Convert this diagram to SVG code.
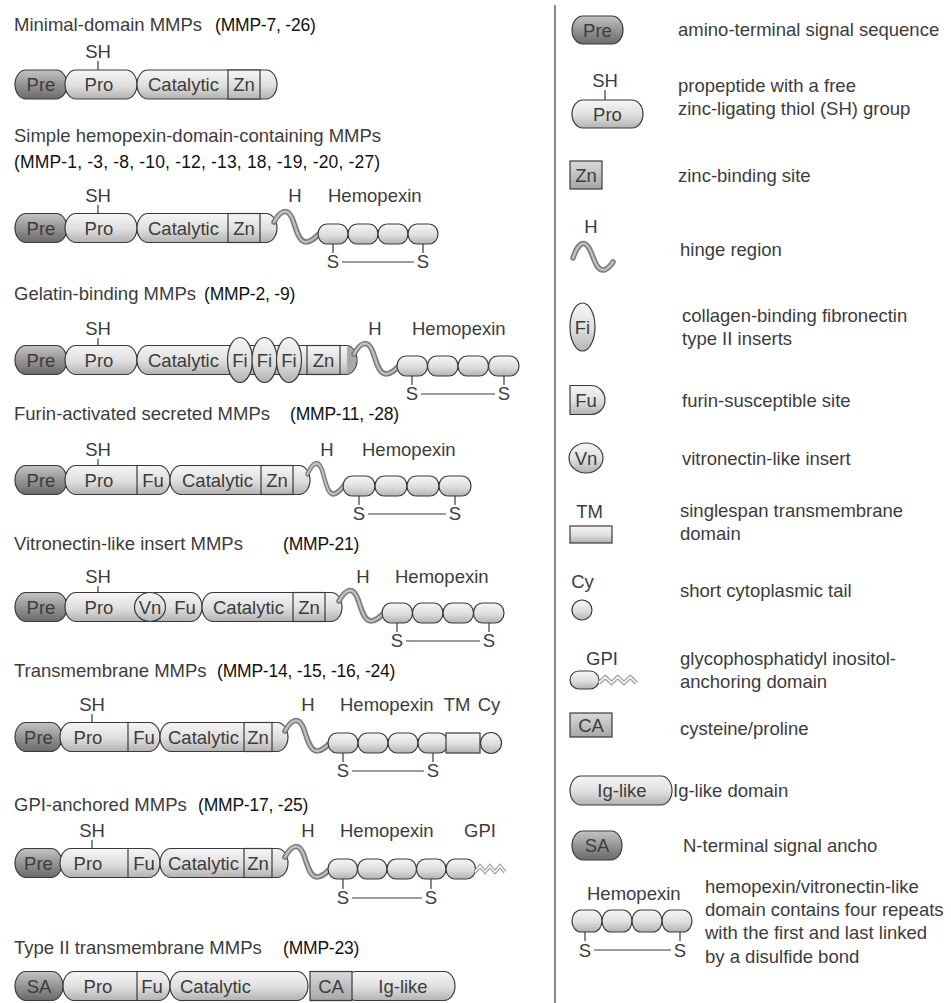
<svg xmlns="http://www.w3.org/2000/svg" width="951" height="1003" viewBox="0 0 951 1003">
<defs>
<linearGradient id="gL" x1="0" y1="0" x2="0" y2="1"><stop offset="0" stop-color="#f6f6f6"/><stop offset="0.55" stop-color="#dedede"/><stop offset="1" stop-color="#b2b2b2"/></linearGradient>
<linearGradient id="gD" x1="0" y1="0" x2="0" y2="1"><stop offset="0" stop-color="#c4c4c4"/><stop offset="0.5" stop-color="#959595"/><stop offset="1" stop-color="#6a6a6a"/></linearGradient>
<linearGradient id="gZ" x1="0" y1="0" x2="0" y2="1"><stop offset="0" stop-color="#dadada"/><stop offset="1" stop-color="#a6a6a6"/></linearGradient>
<g id="hinge">
<path d="M -3,-6 C 3,-17 10,-21 15,-10 C 19,-1 21,14 29,14 C 34,14 38,10 42,6" fill="none" stroke="#7a7a7a" stroke-width="5.5" stroke-linecap="round"/>
<path d="M -3,-6 C 3,-17 10,-21 15,-10 C 19,-1 21,14 29,14 C 34,14 38,10 42,6" fill="none" stroke="#c0c0c0" stroke-width="2.4" stroke-linecap="round"/>
</g>
<g id="zig">
<polyline points="0,3 5,-3 10,3 15,-3 20,3 25,-3 30,3" fill="none" stroke="#9a9a9a" stroke-width="3.6" stroke-linejoin="miter"/>
<polyline points="0,3 5,-3 10,3 15,-3 20,3 25,-3 30,3" fill="none" stroke="#f2f2f2" stroke-width="1.6" stroke-linejoin="miter"/>
</g>
</defs>
<style>
.lt{fill:url(#gL);stroke:#3a3a3a;stroke-width:1.2}
.dk{fill:url(#gD);stroke:#3a3a3a;stroke-width:1.2}
.zn{fill:url(#gZ);stroke:#3a3a3a;stroke-width:1.2}
.ln{fill:none;stroke:#3a3a3a;stroke-width:1.2}
.t{font-family:"Liberation Sans",Arial,Helvetica,sans-serif;font-size:18.5px;fill:#3c3c3c}
.p{font-size:17.5px;fill:#111;letter-spacing:-0.2px}
.c{text-anchor:middle}
</style>
<rect x="0" y="0" width="951" height="1003" fill="#ffffff"/>

<g id="connectors">
<line class="ln" x1="555" y1="5" x2="555" y2="1003" stroke-width="1.5"/>
</g>

<!-- Row 1 -->
<g id="mmp-minimal">
<text class="t" x="14" y="31">Minimal-domain MMPs</text><text class="t p" x="215" y="31">(MMP-7, -26)</text>
<text class="t c" x="98" y="58">SH</text><line class="ln" x1="98" y1="61" x2="98" y2="70"/>
<rect class="dk" x="15" y="70" width="52" height="29" rx="11" ry="14.5"/>
<rect class="lt" x="65" y="70" width="72" height="29" rx="11" ry="14.5"/>
<rect class="lt" x="137" y="70" width="140" height="29" rx="11" ry="14.5"/>
<rect class="lt" x="228" y="70" width="32" height="29"/>
<text class="t c" x="41" y="91">Pre</text><text class="t c" x="99" y="91">Pro</text><text class="t" x="148" y="91">Catalytic</text><text class="t c" x="244" y="91">Zn</text>
</g>

<!-- Row 2 -->
<g id="mmp-simple-hemopexin">
<text class="t" x="14" y="142">Simple hemopexin-domain-containing MMPs</text>
<text class="t p" x="14" y="168" textLength="366" lengthAdjust="spacing">(MMP-1, -3, -8, -10, -12, -13, 18, -19, -20, -27)</text>
<text class="t c" x="98" y="202">SH</text><line class="ln" x1="98" y1="205" x2="98" y2="213.5"/>
<rect class="dk" x="15" y="213.5" width="52" height="29" rx="11" ry="14.5"/>
<rect class="lt" x="65" y="213.5" width="72" height="29" rx="11" ry="14.5"/>
<rect class="lt" x="137" y="213.5" width="140" height="29" rx="11" ry="14.5"/>
<rect class="lt" x="228" y="213.5" width="32" height="29"/>
<text class="t c" x="41" y="234.5">Pre</text><text class="t c" x="99" y="234.5">Pro</text><text class="t" x="148" y="234.5">Catalytic</text><text class="t c" x="244" y="234.5">Zn</text>
<use href="#hinge" transform="translate(277,228)"/>
<rect class="lt" x="318" y="224" width="30" height="20" rx="9" ry="10"/>
<rect class="lt" x="348" y="224" width="30" height="20" rx="9" ry="10"/>
<rect class="lt" x="378" y="224" width="30" height="20" rx="9" ry="10"/>
<rect class="lt" x="408" y="224" width="30" height="20" rx="9" ry="10"/>
<line class="ln" x1="333" y1="244" x2="333" y2="253"/><line class="ln" x1="423" y1="244" x2="423" y2="253"/>
<line class="ln" x1="342" y1="262" x2="414" y2="262"/>
<text class="t c" x="333" y="268">S</text><text class="t c" x="423" y="268">S</text>
<text class="t c" x="295" y="202">H</text><text class="t" x="328" y="202">Hemopexin</text>
</g>

<!-- Row 3 -->
<g id="mmp-gelatin">
<text class="t" x="14" y="300">Gelatin-binding MMPs</text><text class="t p" x="204" y="300">(MMP-2, -9)</text>
<text class="t c" x="98" y="335">SH</text><line class="ln" x1="98" y1="338" x2="98" y2="345.5"/>
<rect class="dk" x="15" y="345.5" width="52" height="29" rx="11" ry="14.5"/>
<rect class="lt" x="65" y="345.5" width="72" height="29" rx="11" ry="14.5"/>
<rect class="lt" x="137" y="345.5" width="220" height="29" rx="11" ry="14.5"/>
<path d="M 347,346.5 A 9.5,13.5 0 0 1 347,373.5 Z" fill="#a9a9a9"/>
<rect class="lt" x="307" y="345.5" width="33" height="29"/>
<ellipse class="lt" cx="240" cy="360" rx="12.5" ry="22.5"/>
<ellipse class="lt" cx="264.5" cy="360" rx="12.5" ry="22.5"/>
<ellipse class="lt" cx="289" cy="360" rx="12.5" ry="22.5"/>
<text class="t c" x="41" y="366.5">Pre</text><text class="t c" x="99" y="366.5">Pro</text><text class="t" x="148" y="366.5">Catalytic</text>
<text class="t c" x="240" y="366.5">Fi</text><text class="t c" x="264.5" y="366.5">Fi</text><text class="t c" x="289" y="366.5">Fi</text><text class="t c" x="323.5" y="366.5">Zn</text>
<use href="#hinge" transform="translate(357,360)"/>
<rect class="lt" x="397" y="356" width="30.5" height="20" rx="9" ry="10"/>
<rect class="lt" x="427.5" y="356" width="30.5" height="20" rx="9" ry="10"/>
<rect class="lt" x="458" y="356" width="30.5" height="20" rx="9" ry="10"/>
<rect class="lt" x="488.5" y="356" width="30.5" height="20" rx="9" ry="10"/>
<line class="ln" x1="412" y1="376" x2="412" y2="385"/><line class="ln" x1="504" y1="376" x2="504" y2="385"/>
<line class="ln" x1="421" y1="394" x2="495" y2="394"/>
<text class="t c" x="412" y="400">S</text><text class="t c" x="504" y="400">S</text>
<text class="t c" x="375" y="335">H</text><text class="t" x="412" y="335">Hemopexin</text>
</g>

<!-- Row 4 -->
<g id="mmp-furin">
<text class="t" x="14" y="420">Furin-activated secreted MMPs</text><text class="t p" x="290" y="420">(MMP-11, -28)</text>
<text class="t c" x="98" y="456">SH</text><line class="ln" x1="98" y1="459" x2="98" y2="465.5"/>
<rect class="dk" x="15" y="465.5" width="52" height="29" rx="11" ry="14.5"/>
<rect class="lt" x="65" y="465.5" width="105" height="29" rx="11" ry="14.5"/>
<line class="ln" x1="137" y1="465.5" x2="137" y2="494.5"/>
<rect class="lt" x="170" y="465.5" width="140" height="29" rx="11" ry="14.5"/>
<rect class="lt" x="261" y="465.5" width="32" height="29"/>
<text class="t c" x="41" y="486.5">Pre</text><text class="t c" x="99" y="486.5">Pro</text><text class="t c" x="153" y="486.5">Fu</text><text class="t" x="182" y="486.5">Catalytic</text><text class="t c" x="277" y="486.5">Zn</text>
<use href="#hinge" transform="translate(310,480) scale(0.8,1)"/>
<rect class="lt" x="343" y="476" width="32" height="20" rx="9" ry="10"/>
<rect class="lt" x="375" y="476" width="32" height="20" rx="9" ry="10"/>
<rect class="lt" x="407" y="476" width="32" height="20" rx="9" ry="10"/>
<rect class="lt" x="439" y="476" width="32" height="20" rx="9" ry="10"/>
<line class="ln" x1="359" y1="496" x2="359" y2="505"/><line class="ln" x1="455" y1="496" x2="455" y2="505"/>
<line class="ln" x1="368" y1="514" x2="446" y2="514"/>
<text class="t c" x="359" y="520">S</text><text class="t c" x="455" y="520">S</text>
<text class="t c" x="327" y="456">H</text><text class="t" x="362" y="456">Hemopexin</text>
</g>

<!-- Row 5 -->
<g id="mmp-vitronectin">
<text class="t" x="14" y="550">Vitronectin-like insert MMPs</text><text class="t p" x="283" y="550">(MMP-21)</text>
<text class="t c" x="98" y="583">SH</text><line class="ln" x1="98" y1="586" x2="98" y2="592.5"/>
<rect class="dk" x="15" y="592.5" width="52" height="29" rx="11" ry="14.5"/>
<rect class="lt" x="65" y="592.5" width="137" height="29" rx="11" ry="14.5"/>
<ellipse class="lt" cx="150" cy="607" rx="15.5" ry="14.5"/>
<rect class="lt" x="202" y="592.5" width="140" height="29" rx="11" ry="14.5"/>
<rect class="lt" x="293" y="592.5" width="32" height="29"/>
<text class="t c" x="41" y="613.5">Pre</text><text class="t c" x="99" y="613.5">Pro</text><text class="t c" x="150" y="613.5">Vn</text><text class="t c" x="185" y="613.5">Fu</text><text class="t" x="213" y="613.5">Catalytic</text><text class="t c" x="309" y="613.5">Zn</text>
<use href="#hinge" transform="translate(342,607)"/>
<rect class="lt" x="382" y="603" width="30.5" height="20" rx="9" ry="10"/>
<rect class="lt" x="412.5" y="603" width="30.5" height="20" rx="9" ry="10"/>
<rect class="lt" x="443" y="603" width="30.5" height="20" rx="9" ry="10"/>
<rect class="lt" x="473.5" y="603" width="30.5" height="20" rx="9" ry="10"/>
<line class="ln" x1="397" y1="623" x2="397" y2="632"/><line class="ln" x1="489" y1="623" x2="489" y2="632"/>
<line class="ln" x1="406" y1="641" x2="480" y2="641"/>
<text class="t c" x="397" y="647">S</text><text class="t c" x="489" y="647">S</text>
<text class="t c" x="363" y="583">H</text><text class="t" x="395" y="583">Hemopexin</text>
</g>

<!-- Row 6 -->
<g id="mmp-transmembrane">
<text class="t" x="14" y="677">Transmembrane MMPs</text><text class="t p" x="217" y="677">(MMP-14, -15, -16, -24)</text>
<text class="t c" x="92" y="711">SH</text><line class="ln" x1="92" y1="714" x2="92" y2="722.5"/>
<rect class="dk" x="15" y="722.5" width="47" height="29" rx="11" ry="14.5"/>
<rect class="lt" x="60" y="722.5" width="100" height="29" rx="11" ry="14.5"/>
<line class="ln" x1="128" y1="722.5" x2="128" y2="751.5"/>
<rect class="lt" x="160" y="722.5" width="128" height="29" rx="11" ry="14.5"/>
<rect class="lt" x="244" y="722.5" width="28" height="29"/>
<text class="t c" x="38.5" y="743.5">Pre</text><text class="t c" x="88" y="743.5">Pro</text><text class="t c" x="144" y="743.5">Fu</text><text class="t" x="168" y="743.5">Catalytic</text><text class="t c" x="258" y="743.5">Zn</text>
<use href="#hinge" transform="translate(288,737)"/>
<rect class="lt" x="328" y="733" width="30" height="20" rx="9" ry="10"/>
<rect class="lt" x="358" y="733" width="30" height="20" rx="9" ry="10"/>
<rect class="lt" x="388" y="733" width="30" height="20" rx="9" ry="10"/>
<rect class="lt" x="418" y="733" width="30" height="20" rx="9" ry="10"/>
<rect class="lt" x="446" y="733" width="34" height="20"/>
<circle class="lt" cx="491" cy="743" r="10.5"/>
<line class="ln" x1="343" y1="753" x2="343" y2="762"/><line class="ln" x1="433" y1="753" x2="433" y2="762"/>
<line class="ln" x1="352" y1="771" x2="424" y2="771"/>
<text class="t c" x="343" y="777">S</text><text class="t c" x="433" y="777">S</text>
<text class="t c" x="308" y="711">H</text><text class="t" x="340" y="711">Hemopexin</text>
<text class="t c" x="457" y="711">TM</text><text class="t c" x="489" y="711">Cy</text>
</g>

<!-- Row 7 -->
<g id="mmp-gpi">
<text class="t" x="14" y="811">GPI-anchored MMPs</text><text class="t p" x="198" y="811">(MMP-17, -25)</text>
<text class="t c" x="92" y="837">SH</text><line class="ln" x1="92" y1="840" x2="92" y2="848.5"/>
<rect class="dk" x="15" y="848.5" width="47" height="29" rx="11" ry="14.5"/>
<rect class="lt" x="60" y="848.5" width="100" height="29" rx="11" ry="14.5"/>
<line class="ln" x1="128" y1="848.5" x2="128" y2="877.5"/>
<rect class="lt" x="160" y="848.5" width="128" height="29" rx="11" ry="14.5"/>
<rect class="lt" x="244" y="848.5" width="28" height="29"/>
<text class="t c" x="38.5" y="869.5">Pre</text><text class="t c" x="88" y="869.5">Pro</text><text class="t c" x="144" y="869.5">Fu</text><text class="t" x="168" y="869.5">Catalytic</text><text class="t c" x="258" y="869.5">Zn</text>
<use href="#hinge" transform="translate(288,863)"/>
<rect class="lt" x="328" y="859" width="29.5" height="20" rx="9" ry="10"/>
<rect class="lt" x="357.5" y="859" width="29.5" height="20" rx="9" ry="10"/>
<rect class="lt" x="387" y="859" width="29.5" height="20" rx="9" ry="10"/>
<rect class="lt" x="416.5" y="859" width="29.5" height="20" rx="9" ry="10"/>
<rect class="lt" x="446" y="859" width="29.5" height="20" rx="9" ry="10"/>
<use href="#zig" transform="translate(475,869)"/>
<line class="ln" x1="343" y1="879" x2="343" y2="889"/><line class="ln" x1="431" y1="879" x2="431" y2="889"/>
<line class="ln" x1="352" y1="898" x2="422" y2="898"/>
<text class="t c" x="343" y="904">S</text><text class="t c" x="431" y="904">S</text>
<text class="t c" x="308" y="837">H</text><text class="t" x="340" y="837">Hemopexin</text><text class="t c" x="480" y="837">GPI</text>
</g>

<!-- Row 8 -->
<g id="mmp-type2">
<text class="t" x="14" y="954">Type II transmembrane MMPs</text><text class="t p" x="283" y="954">(MMP-23)</text>
<rect class="dk" x="15" y="971.5" width="48" height="29" rx="11" ry="14.5"/>
<rect class="lt" x="63" y="971.5" width="107" height="29" rx="11" ry="14.5"/>
<line class="ln" x1="137" y1="971.5" x2="137" y2="1000.5"/>
<rect class="lt" x="170" y="971.5" width="138" height="29" rx="11" ry="14.5"/>
<rect class="lt" x="345" y="971.5" width="110" height="29" rx="11" ry="14.5"/>
<rect class="zn" x="310" y="971.5" width="42" height="29"/>
<text class="t c" x="39" y="992.5">SA</text><text class="t c" x="98" y="992.5">Pro</text><text class="t c" x="152" y="992.5">Fu</text><text class="t" x="180" y="992.5">Catalytic</text><text class="t c" x="331" y="992.5">CA</text><text class="t c" x="403" y="992.5">Ig-like</text>
</g>

<!-- Legend -->
<g id="legend-pre">
<rect class="dk" x="572" y="16" width="51" height="28" rx="11" ry="14"/>
<text class="t c" x="597.5" y="36.5">Pre</text>
<text class="t" x="678" y="36">amino-terminal signal sequence</text>
</g>
<g id="legend-pro">
<text class="t c" x="605" y="87">SH</text><line class="ln" x1="605" y1="90" x2="605" y2="100"/>
<rect class="lt" x="572" y="100" width="71" height="28" rx="11" ry="14"/>
<text class="t c" x="607.5" y="120.5">Pro</text>
<text class="t" x="678" y="92">propeptide with a free</text>
<text class="t" x="678" y="115">zinc-ligating thiol (SH) group</text>
</g>
<g id="legend-zn">
<rect class="zn" x="570" y="161" width="32" height="28"/>
<text class="t c" x="586" y="181.5">Zn</text>
<text class="t" x="678" y="182">zinc-binding site</text>
</g>
<g id="legend-hinge">
<text class="t c" x="591" y="233">H</text>
<path d="M 573,258 C 577,246 583,238 589,248 C 594,257 596,271 604,270 C 608,269 611,265 613,262" fill="none" stroke="#7a7a7a" stroke-width="5.5" stroke-linecap="round"/>
<path d="M 573,258 C 577,246 583,238 589,248 C 594,257 596,271 604,270 C 608,269 611,265 613,262" fill="none" stroke="#c0c0c0" stroke-width="2.4" stroke-linecap="round"/>
<text class="t" x="680" y="256">hinge region</text>
</g>
<g id="legend-fi">
<ellipse class="lt" cx="582.5" cy="327" rx="12.5" ry="24"/>
<text class="t c" x="582.5" y="333.5">Fi</text>
<text class="t" x="682" y="322">collagen-binding fibronectin</text>
<text class="t" x="682" y="345">type II inserts</text>
</g>
<g id="legend-fu">
<path class="lt" d="M 570,385.5 H 591 A 14,14.5 0 0 1 591,414.5 H 570 Z"/>
<text class="t c" x="586" y="406.5">Fu</text>
<text class="t" x="682" y="407">furin-susceptible site</text>
</g>
<g id="legend-vn">
<ellipse class="lt" cx="586" cy="458" rx="17" ry="15"/>
<text class="t c" x="586" y="464.5">Vn</text>
<text class="t" x="682" y="465">vitronectin-like insert</text>
</g>
<g id="legend-tm">
<text class="t c" x="589.5" y="518">TM</text>
<rect class="lt" x="570" y="526" width="42" height="17"/>
<text class="t" x="680" y="517">singlespan transmembrane</text>
<text class="t" x="680" y="540">domain</text>
</g>
<g id="legend-cy">
<text class="t c" x="582.5" y="588">Cy</text>
<circle class="lt" cx="582" cy="610" r="10"/>
<text class="t" x="680" y="597">short cytoplasmic tail</text>
</g>
<g id="legend-gpi">
<text class="t c" x="602" y="665">GPI</text>
<rect class="lt" x="570" y="671" width="29" height="18" rx="9" ry="9"/>
<use href="#zig" transform="translate(599,680) scale(1.25,1)"/>
<text class="t" x="680" y="665">glycophosphatidyl inositol-</text>
<text class="t" x="680" y="688">anchoring domain</text>
</g>
<g id="legend-ca">
<rect class="zn" x="570" y="713" width="42" height="24"/>
<text class="t c" x="591" y="731.5">CA</text>
<text class="t" x="680" y="735">cysteine/proline</text>
</g>
<g id="legend-ig">
<rect class="lt" x="570" y="776" width="102" height="29" rx="11" ry="14.5"/>
<text class="t c" x="622" y="797">Ig-like</text>
<text class="t" x="673" y="797">Ig-like domain</text>
</g>
<g id="legend-sa">
<rect class="dk" x="572" y="831" width="50" height="29" rx="11" ry="14.5"/>
<text class="t c" x="597" y="852">SA</text>
<text class="t" x="683" y="852">N-terminal signal ancho</text>
</g>
<g id="legend-hemopexin">
<text class="t" x="587" y="900">Hemopexin</text>
<rect class="lt" x="572" y="910" width="30" height="22" rx="9" ry="11"/>
<rect class="lt" x="602" y="910" width="30" height="22" rx="9" ry="11"/>
<rect class="lt" x="632" y="910" width="30" height="22" rx="9" ry="11"/>
<rect class="lt" x="662" y="910" width="30" height="22" rx="9" ry="11"/>
<line class="ln" x1="585" y1="932" x2="585" y2="941"/><line class="ln" x1="680" y1="932" x2="680" y2="941"/>
<line class="ln" x1="594" y1="950" x2="671" y2="950"/>
<text class="t c" x="585" y="957">S</text><text class="t c" x="680" y="957">S</text>
<text class="t" x="705" y="893">hemopexin/vitronectin-like</text>
<text class="t" x="705" y="916">domain contains four repeats</text>
<text class="t" x="705" y="939">with the first and last linked</text>
<text class="t" x="705" y="963">by a disulfide bond</text>
</g>
</svg>
